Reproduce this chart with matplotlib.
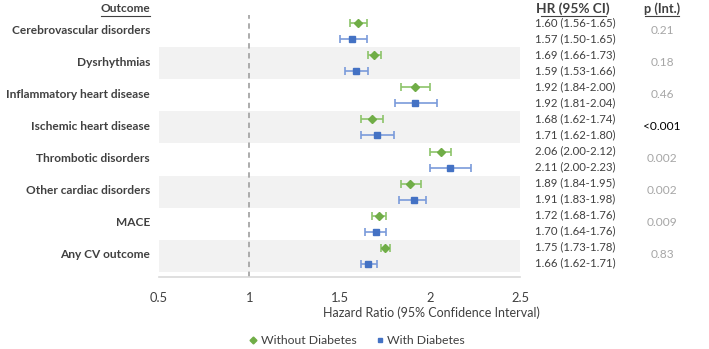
import matplotlib
matplotlib.use("Agg")
import matplotlib.pyplot as plt
from matplotlib.lines import Line2D

plt.rcParams['font.family'] = ['Lato', 'DejaVu Sans']

outcomes = ["Cerebrovascular disorders", "Dysrhythmias", "Inflammatory heart disease",
            "Ischemic heart disease", "Thrombotic disorders", "Other cardiac disorders",
            "MACE", "Any CV outcome"]
hr_without = [1.60, 1.69, 1.92, 1.68, 2.06, 1.89, 1.72, 1.75]
lo_without = [1.56, 1.66, 1.84, 1.62, 2.00, 1.84, 1.68, 1.73]
hi_without = [1.65, 1.73, 2.00, 1.74, 2.12, 1.95, 1.76, 1.78]
hr_with = [1.57, 1.59, 1.92, 1.71, 2.11, 1.91, 1.70, 1.66]
lo_with = [1.50, 1.53, 1.81, 1.62, 2.00, 1.83, 1.64, 1.62]
hi_with = [1.65, 1.66, 2.04, 1.80, 2.23, 1.98, 1.76, 1.71]
p_int = ["0.21", "0.18", "0.46", "<0.001", "0.002", "0.002", "0.009", "0.83"]
xticks = [0.5, 1, 1.5, 2, 2.5]

GREEN = "#70AD47"
GREEN_L = "#8CC46A"
BLUE = "#4472C4"
BLUE_L = "#7A9BDA"
TXT = "#404040"
FS = 8.6

W, H = 709, 349
fig = plt.figure(figsize=(W / 100, H / 100), dpi=100)
left, right, top, bottom = 159, 520, 15, 277
ax = fig.add_axes([left / W, 1 - bottom / H, (right - left) / W, (bottom - top) / H])

n = len(outcomes)
ax.set_xlim(0.5, 2.5)
ax.set_ylim(n + 0.5 + 5 / 32, 0.5)

for i in range(n):
    if i % 2 == 1:
        ax.axhspan(i + 0.5, i + 1.5, color="#F2F2F2", zorder=0, lw=0)

ax.axvline(1, color="#A6A6A6", lw=1.3, ls=(0, (3, 2.5)), zorder=1)

off = 0.25
ys = [i + 1 for i in range(n)]
yg = [y - off for y in ys]
yb = [y + off for y in ys]
ax.errorbar(hr_without, yg,
            xerr=[[h - l for h, l in zip(hr_without, lo_without)],
                  [u - h for h, u in zip(hr_without, hi_without)]],
            fmt="none", ecolor=GREEN_L, elinewidth=1.2, capsize=3, capthick=1.2, zorder=2)
ax.plot(hr_without, yg, ls="none", marker="D", ms=4, color=GREEN, zorder=3)
ax.errorbar(hr_with, yb,
            xerr=[[h - l for h, l in zip(hr_with, lo_with)],
                  [u - h for h, u in zip(hr_with, hi_with)]],
            fmt="none", ecolor=BLUE_L, elinewidth=1.2, capsize=3, capthick=1.2, zorder=2)
ax.plot(hr_with, yb, ls="none", marker="s", ms=5, color=BLUE, zorder=3)

for s in ["top", "right", "left"]:
    ax.spines[s].set_visible(False)
ax.spines["bottom"].set_color("#D9D9D9")
ax.spines["bottom"].set_linewidth(1.2)
ax.set_yticks([])
ax.set_xticks(xticks)
ax.set_xticklabels([f"{t:g}" for t in xticks], fontsize=9.3, color=TXT)
ax.tick_params(axis="x", length=0, pad=11)
fig.text(431 / W, 1 - 313 / H, "Hazard Ratio (95% Confidence Interval)", ha="center",
         va="center", fontsize=9.0, color=TXT)

def fy(y):
    return 1 - (top + (y - 0.5) * 32) / H

for i, name in enumerate(outcomes):
    fig.text(150 / W, fy(ys[i]), name, ha="right", va="center",
             fontsize=FS, fontweight="bold", color=TXT)
    fig.text(535 / W, fy(yg[i]), f"{hr_without[i]:.2f} ({lo_without[i]:.2f}-{hi_without[i]:.2f})",
             ha="left", va="center", fontsize=8.2, color=TXT)
    fig.text(535 / W, fy(yb[i]), f"{hr_with[i]:.2f} ({lo_with[i]:.2f}-{hi_with[i]:.2f})",
             ha="left", va="center", fontsize=8.2, color=TXT)
    pc = "#000000" if p_int[i].startswith("<") else "#A6A6A6"
    fig.text(662 / W, fy(ys[i]), p_int[i], ha="center", va="center", fontsize=FS, color=pc)

hy = 1 - 9 / H
fig.text(150 / W, hy, "Outcome", ha="right", va="center", fontsize=FS,
         fontweight="bold", color=TXT)
fig.text(573 / W, hy, "HR (95% CI)", ha="center", va="center", fontsize=9.8,
         fontweight="bold", color=TXT)
fig.text(662 / W, hy, "p (Int.)", ha="center", va="center", fontsize=9.2,
         fontweight="bold", color=TXT)
for x0, x1 in [(101, 150), (541, 606), (645, 679)]:
    fig.add_artist(Line2D([x0 / W, x1 / W], [1 - 16 / H, 1 - 16 / H], color=TXT, lw=0.8))

handles = [Line2D([], [], ls="none", marker="D", ms=3.5, color=GREEN),
           Line2D([], [], ls="none", marker="s", ms=3.5, color=BLUE)]
fig.legend(handles, ["Without Diabetes", "With Diabetes"], loc="center",
           bbox_to_anchor=(356 / W, 1 - 341 / H), ncol=2, frameon=False, fontsize=8.8,
           handletextpad=0.1, columnspacing=1.4, handlelength=1.0, labelcolor=TXT)

fig.savefig("out.png", dpi=100)
